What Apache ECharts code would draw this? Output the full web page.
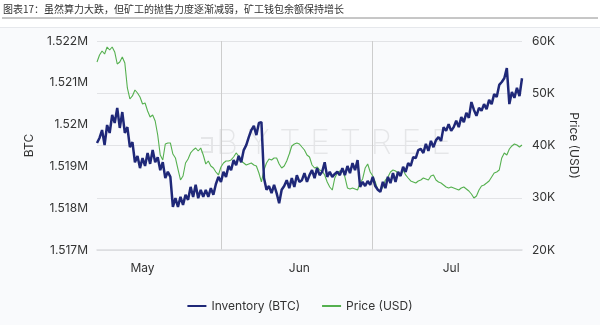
<!DOCTYPE html>
<html>
<head>
<meta charset="utf-8">
<script src="https://cdn.jsdelivr.net/npm/echarts@6/dist/echarts.min.js"></script>
<style>
  html, body { margin: 0; padding: 0; background: #fff; }
  #chart { width: 600px; height: 325px; }
</style>
</head>
<body>
<div id="chart"></div>
<script>
// Half-day samples starting 7 May 2021, 12:00 UTC
const seriesStart = Date.UTC(2021, 4, 7, 12);
const stepHours = 12;

// Miner wallet inventory (BTC)
const inventory = [
  1519560,1519680,1519870,1519510,1519990,1519800,1520230,1520040,1520400,1519920,
  1520300,1519800,1519940,1519460,1519580,1519100,1519250,1518960,1519200,1519010,
  1519320,1519060,1519390,1519100,1519220,1518910,1519100,1518720,1518870,1518750,
  1518030,1518240,1518030,1518270,1518080,1518320,1518200,1518510,1518270,1518560,
  1518240,1518440,1518270,1518440,1518270,1518480,1518320,1518580,1518750,1518630,
  1518870,1518750,1519010,1518910,1519150,1519030,1519250,1519100,1519390,1519510,
  1519700,1519870,1519970,1519750,1520040,1520060,1518720,1518440,1518530,1518360,
  1518560,1518360,1518120,1518440,1518530,1518670,1518480,1518720,1518510,1518790,
  1518630,1518670,1518840,1518630,1518790,1518910,1518720,1518960,1518790,1518870,
  1519100,1518750,1518870,1518750,1518820,1518870,1518790,1518960,1518790,1519010,
  1518840,1519080,1518910,1519150,1518510,1518630,1518530,1518650,1518560,1518750,
  1518530,1518440,1518390,1518630,1518480,1518750,1518600,1518840,1518630,1518870,
  1518770,1518990,1518870,1519080,1519010,1519220,1519200,1519390,1519420,1519320,
  1519540,1519370,1519610,1519460,1519630,1519700,1519610,1519940,1519850,1520010,
  1519850,1519940,1520090,1519940,1520180,1520060,1520280,1520160,1520540,1520350,
  1520210,1520400,1520330,1520490,1520370,1520590,1520490,1520730,1520660,1520950,
  1521020,1521110,1521350,1520490,1520780,1520640,1520880,1520680,1521110
];

// BTC price (USD)
const price = [
  55980,57320,58090,57510,58850,58280,58850,57900,55600,55980,
  56940,55790,51010,48900,49480,50620,50050,49280,47940,48140,
  46600,45460,45840,44690,42010,38180,37230,40290,40480,40480,
  38370,37610,35500,33400,34160,36650,37420,38570,39140,39520,
  38950,39520,38180,36460,37030,36080,35690,34930,34360,35890,
  36650,37030,37030,37230,37800,38570,37990,37030,36650,36270,
  36460,36650,36270,36080,34740,33020,35310,36650,37420,37230,
  37610,37610,36460,35690,36080,37030,38370,39910,40290,40480,
  40290,39710,39140,38180,37800,36270,35690,35890,35310,35120,
  34360,33020,32060,31480,33780,34740,35120,35310,33970,31870,
  31680,31870,31680,31480,32820,33590,35690,36460,34930,34160,
  33020,31480,31290,32060,33400,33970,34930,35310,35120,34740,
  34360,35310,34360,33780,33210,33020,32820,33210,33400,33780,
  33590,33400,34160,34360,33400,33020,32820,32440,32060,31870,
  32060,31870,31680,31480,31870,32060,31680,31290,30720,29950,
  30340,31480,32250,32440,32820,33210,33970,34740,34930,35310,
  37610,38570,38180,39330,39910,40290,40100,39710,40100
];

const monthNames = ['Jan','Feb','Mar','Apr','May','Jun','Jul','Aug','Sep','Oct','Nov','Dec'];
const seriesNames = ['Inventory (BTC)', 'Price (USD)'];
const titleText = '图表17：虽然算力大跌，但矿工的抛售力度逐渐减弱，矿工钱包余额保持增长';

// Category keys like "2021-05-07T12"
const categories = inventory.map((_, i) =>
  new Date(seriesStart + i * stepHours * 3600e3).toISOString().slice(0, 13));

const watermarkInk = 'rgba(0,0,0,0.08)';

const chart = echarts.init(document.getElementById('chart'), null, { renderer: 'canvas' });

chart.setOption({
  animation: false,
  backgroundColor: '#f9fafc',
  textStyle: { fontFamily: 'Inter, Roboto, sans-serif' },
  graphic: [
    { type: 'rect', shape: { x: 0, y: 0, width: 600, height: 27 }, style: { fill: '#ffffff' }, silent: true },
    { type: 'line', shape: { x1: 0, y1: 27.5, x2: 600, y2: 27.5 }, style: { stroke: '#e6e8ec', lineWidth: 1 }, silent: true },
    { type: 'line', shape: { x1: 2, y1: 18, x2: 598, y2: 18 }, style: { stroke: '#8e8e8e', lineWidth: 1 }, silent: true },
    { type: 'text', left: 3, top: 4, silent: true,
      style: { text: titleText, font: '10px "Noto Sans CJK SC"', fill: '#333' } },
    // faint brand watermark: bracket mark + wordmark
    { type: 'polyline', silent: true, z: -1,
      shape: { points: [[201, 138], [212, 138], [212, 152], [201, 152]] },
      style: { stroke: watermarkInk, lineWidth: 2, fill: null } },
    { type: 'line', silent: true, z: -1,
      shape: { x1: 202, y1: 145, x2: 209, y2: 145 },
      style: { stroke: watermarkInk, lineWidth: 2 } },
    { type: 'text', left: 216, top: 127, silent: true, z: -1,
      style: { text: 'B Y T E T R E E', font: '200 34px Inter', fill: watermarkInk } }
  ],
  grid: { left: 97, right: 78, top: 41, bottom: 75 },
  legend: {
    top: 295, left: 'center',
    data: seriesNames,
    icon: 'rect', itemWidth: 19, itemHeight: 2, itemGap: 22,
    textStyle: { fontSize: 12, color: '#333' }
  },
  xAxis: {
    type: 'category',
    data: categories,
    boundaryGap: false,
    axisLine: { lineStyle: { color: '#dcdde0', width: 1.5 } },
    axisTick: { show: false },
    axisLabel: {
      interval: (i, v) => v.endsWith('-16T12'),
      formatter: v => monthNames[parseInt(v.slice(5, 7), 10) - 1],
      color: '#333', fontSize: 12, margin: 12
    },
    splitLine: {
      show: true,
      interval: (i, v) => v.endsWith('-01T00'),
      lineStyle: { color: '#cdcdcd', width: 1 }
    }
  },
  yAxis: [
    {
      type: 'value', position: 'left',
      min: 1517000, max: 1522000, interval: 1000,
      name: 'BTC', nameLocation: 'middle', nameGap: 62,
      nameTextStyle: { fontSize: 12, color: '#333' },
      axisLine: { show: false }, axisTick: { show: false },
      splitLine: { show: false },
      axisLabel: { formatter: v => (v / 1e6) + 'M', color: '#333', fontSize: 12, margin: 9 }
    },
    {
      type: 'value', position: 'right',
      min: 20000, max: 60000, interval: 10000,
      name: 'Price (USD)', nameLocation: 'middle', nameRotate: -90, nameGap: 46,
      nameTextStyle: { fontSize: 12, color: '#333' },
      axisLine: { show: false }, axisTick: { show: false },
      splitLine: { show: true, lineStyle: { color: '#e2e3e6', width: 1 } },
      axisLabel: { formatter: v => (v / 1000) + 'K', color: '#333', fontSize: 12, margin: 10 }
    }
  ],
  series: [
    {
      name: seriesNames[1], type: 'line', yAxisIndex: 1, data: price,
      symbol: 'none', color: '#55b04f',
      lineStyle: { width: 1.1, color: '#55b04f' }, z: 2
    },
    {
      name: seriesNames[0], type: 'line', yAxisIndex: 0, data: inventory,
      symbol: 'none', color: '#1f2878',
      lineStyle: { width: 2.5, color: '#1f2878' }, z: 3
    }
  ]
});
</script>
</body>
</html>
